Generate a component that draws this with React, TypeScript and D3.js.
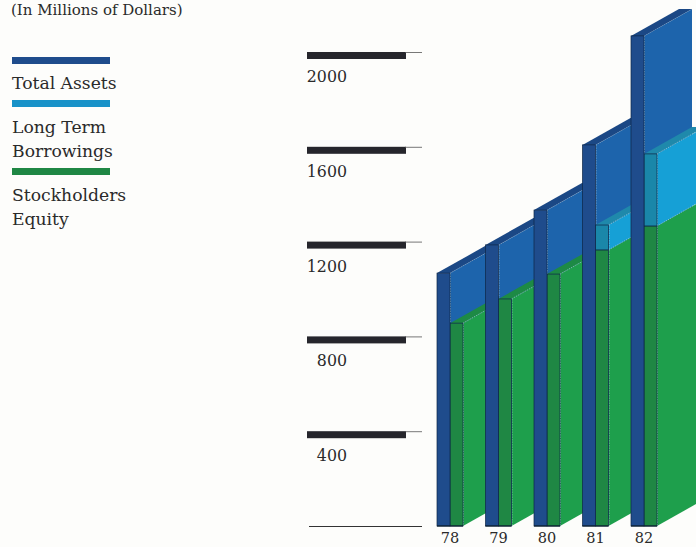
import React from "react";
import * as d3 from "d3";

// Values in millions of dollars, fiscal 1978-1982.
const years = ["78", "79", "80", "81", "82"];
const totalAssets = [1067, 1186, 1333, 1608, 2068];
const stockholdersEquity = [856, 958, 1063, 1165, 1266];
const longTermBorrowings = [0, 0, 0, 105, 304];
const axisTicks = [400, 800, 1200, 1600, 2000];

const palette = {
  paper: "#fdfdfb",
  ink: "#2a2a2a",
  tick: "#26262c",
  assetsFront: "#1f4c8c",
  assetsWall: "#1d64ac",
  assetsTop: "#1b4885",
  debtFront: "#1a87a9",
  debtWall: "#16a0d6",
  debtTop: "#1f89ab",
  equityFront: "#1f8744",
  equityWall: "#1e9f4c",
  equityTop: "#1d8a45",
  outline: "#0e2646",
  highlight: "#cfe6ee",
};

const serif = "'DejaVu Serif', 'Liberation Serif', serif";

const y = d3.scaleLinear().domain([0, 2000]).range([526, 52]);
const x = d3.scalePoint<string>().domain(years).range([437, 631]);

const slab = 13;
const depthX = 48;
const depthY = 27;

const poly = (pts: [number, number][]) => pts.map((p) => p.join(",")).join(" ");

// A receding side wall: starts at px on the front plane and runs up-right.
const wall = (px: number, top: number, bottom: number) =>
  poly([
    [px, top],
    [px + depthX, top - depthY],
    [px + depthX, bottom - depthY],
    [px, bottom],
  ]);

// The lid of a slab that starts at px on the front plane.
const lid = (px: number, top: number) =>
  poly([
    [px, top],
    [px + slab, top],
    [px + slab + depthX, top - depthY],
    [px + depthX, top - depthY],
  ]);

const edge = { stroke: palette.highlight, strokeWidth: 0.7, strokeDasharray: "1.5 1", strokeOpacity: 0.75 };

function Year({ i }: { i: number }) {
  const year = years[i];
  const x0 = x(year)!;
  const x1 = x0 + slab;
  const x2 = x1 + slab;
  const base = y(0);
  const yTotal = y(totalAssets[i]);
  const yEquity = y(stockholdersEquity[i]);
  const yDebt = y(stockholdersEquity[i] + longTermBorrowings[i]);
  const hasDebt = longTermBorrowings[i] > 0;
  return (
    <g>
      {/* rear slab: total assets */}
      <polygon points={wall(x1, yTotal, base)} fill={palette.assetsWall} />
      <line x1={x1 + 0.5} x2={x1 + 0.5} y1={yTotal} y2={base} {...edge} />
      <line x1={x1} x2={x1 + depthX} y1={yTotal} y2={yTotal - depthY} {...edge} />
      <polygon points={lid(x0, yTotal)} fill={palette.assetsTop} />

      {/* front slab: borrowings stacked on equity */}
      <polygon points={wall(x2, yEquity, base)} fill={palette.equityWall} />
      {hasDebt && <polygon points={wall(x2, yDebt, yEquity)} fill={palette.debtWall} />}
      <polygon points={lid(x1, yDebt)} fill={hasDebt ? palette.debtTop : palette.equityTop} />
      <line x1={x2} x2={x2 + depthX} y1={yDebt} y2={yDebt - depthY} {...edge} />
      {hasDebt && <line x1={x2} x2={x2 + depthX} y1={yEquity} y2={yEquity - depthY} {...edge} />}
      <line x1={x2 + 0.5} x2={x2 + 0.5} y1={yDebt} y2={base} {...edge} />

      <rect x={x1} y={yEquity} width={slab} height={base - yEquity} fill={palette.equityFront} stroke={palette.outline} strokeWidth={0.7} />
      {hasDebt && (
        <rect x={x1} y={yDebt} width={slab} height={yEquity - yDebt} fill={palette.debtFront} stroke={palette.outline} strokeWidth={0.7} />
      )}
      <rect x={x0} y={yTotal} width={slab} height={base - yTotal} fill={palette.assetsFront} stroke={palette.outline} strokeWidth={0.7} />
      <line x1={x0} x2={x2} y1={base} y2={base} stroke="#0d1f30" strokeWidth={1.2} />

      <text x={x1} y={543} textAnchor="middle" fontSize={14.5} fill={palette.ink}>
        {year}
      </text>
    </g>
  );
}

const legend = [
  { color: palette.assetsFront, top: 57, lines: [["Total Assets", 89]] },
  { color: "#1892c8", top: 100, lines: [["Long Term", 133], ["Borrowings", 157]] },
  { color: palette.equityFront, top: 168, lines: [["Stockholders", 201], ["Equity", 225]] },
] as const;

export default function App() {
  return (
    <svg
      width={696}
      height={547}
      viewBox="0 0 696 547"
      style={{ position: "absolute", left: 0, top: 0, display: "block", background: palette.paper }}
      fontFamily={serif}
    >
      <text x={11} y={15} fontSize={15} fill={palette.ink}>
        (In Millions of Dollars)
      </text>

      {legend.map((entry) => (
        <g key={entry.top}>
          <rect x={12} y={entry.top} width={98} height={7} fill={entry.color} />
          {entry.lines.map(([label, baseline]) => (
            <text key={label} x={12} y={baseline} fontSize={17.2} fill={palette.ink}>
              {label}
            </text>
          ))}
        </g>
      ))}

      {axisTicks.map((t) => (
        <g key={t}>
          <rect x={307} y={y(t)} width={99} height={7} fill={palette.tick} />
          <line x1={405} x2={422} y1={y(t) + 0.5} y2={y(t) + 0.5} stroke="#555" strokeWidth={0.8} />
          <text x={347} y={y(t) + 30} textAnchor="end" fontSize={15.8} fill={palette.ink}>
            {t}
          </text>
        </g>
      ))}
      <line x1={309} x2={422} y1={y(0) + 0.5} y2={y(0) + 0.5} stroke="#333" strokeWidth={1} />

      {years.map((year, i) => (
        <Year key={year} i={i} />
      ))}
    </svg>
  );
}
